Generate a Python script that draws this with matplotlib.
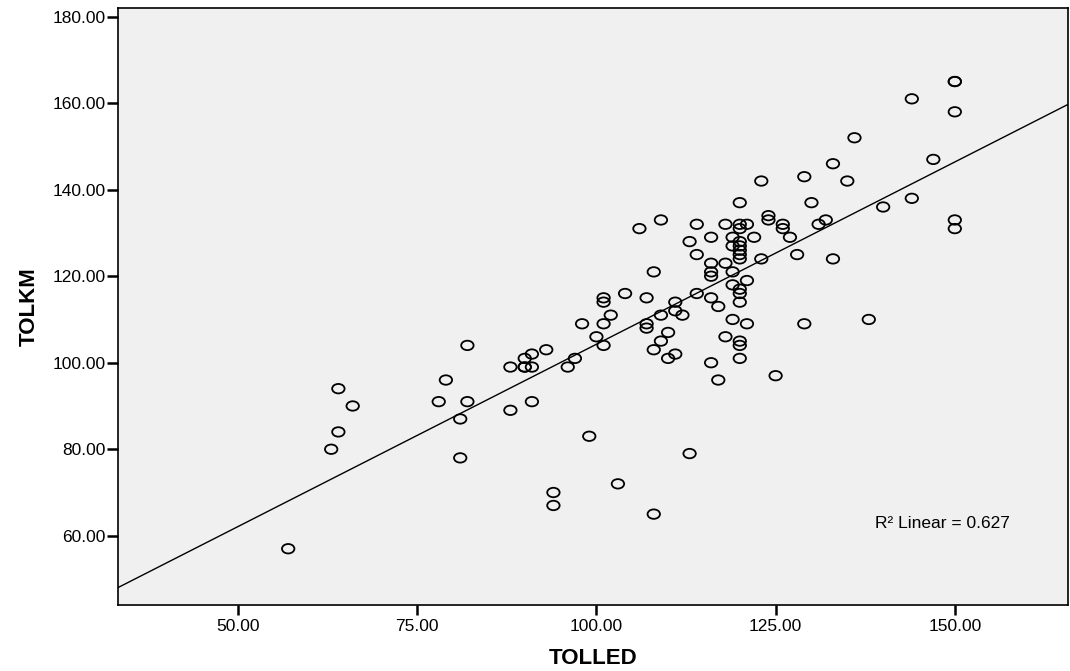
import numpy as np
import matplotlib
matplotlib.use('Agg')
import matplotlib.pyplot as plt
from matplotlib.path import Path
from matplotlib.transforms import Affine2D

# values
tolled = [57, 63, 64, 64, 66, 78, 79, 81, 81, 82, 82, 88, 88, 90, 90, 90, 91, 91, 91, 93,
          94, 94, 96, 97, 98, 99, 100, 101, 101, 101, 101, 102, 103, 104, 106, 107, 107, 107,
          108, 108, 108, 109, 109, 109, 110, 110, 111, 111, 111, 112, 113, 113, 114, 114, 114,
          116, 116, 116, 116, 116, 116, 117, 117, 118, 118, 118, 119, 119, 119, 119, 119,
          120, 120, 120, 120, 120, 120, 120, 120, 120, 120, 120, 120, 120, 120,
          121, 121, 121, 122, 123, 123, 124, 124, 125, 126, 126, 127, 128, 129, 129, 130,
          131, 132, 133, 133, 135, 136, 138, 140, 144, 144, 147, 150, 150, 150, 150, 150]
tolkm = [57, 80, 84, 94, 90, 91, 96, 78, 87, 91, 104, 89, 99, 99, 99, 101, 99, 102, 91, 103,
         70, 67, 99, 101, 109, 83, 106, 104, 109, 114, 115, 111, 72, 116, 131, 108, 109, 115,
         65, 103, 121, 105, 111, 133, 101, 107, 102, 112, 114, 111, 79, 128, 116, 125, 132,
         100, 115, 120, 121, 123, 129, 96, 113, 106, 123, 132, 110, 118, 121, 127, 129,
         101, 104, 105, 114, 116, 117, 124, 125, 126, 127, 128, 131, 132, 137,
         109, 119, 132, 129, 124, 142, 133, 134, 97, 131, 132, 129, 125, 109, 143, 137,
         132, 133, 124, 146, 142, 152, 110, 136, 138, 161, 147, 131, 133, 158, 165, 165]

x_ticks = [50, 75, 100, 125, 150]
y_ticks = [60, 80, 100, 120, 140, 160, 180]
r2_label = 'R² Linear = 0.627'

plt.rcParams['font.family'] = ['Liberation Sans', 'DejaVu Sans']

fig = plt.figure(figsize=(10.7, 6.71), dpi=100)
ax = fig.add_axes([0.1103, 0.0984, 0.8879, 0.8897])
ax.set_facecolor('#f0f0f0')

# flattened circle like the original export
ellipse = Path.unit_circle().transformed(Affine2D().scale(1.0, 0.76))
ax.scatter(tolled, tolkm, marker=ellipse, s=80, facecolors='none',
           edgecolors='black', linewidths=1.3, zorder=3)

xlim = (33.26, 165.8)
ylim = (44.0, 182.0)
ax.set_xlim(xlim)
ax.set_ylim(ylim)

# fit line across the full width
slope, intercept = np.polyfit(tolled, tolkm, 1)
xs = np.array(xlim)
ax.plot(xs, slope * xs + intercept, color='black', linewidth=1.0, zorder=2)

ax.text(0.797, 0.137, r2_label, transform=ax.transAxes, fontsize=12.5,
        ha='left', va='center')

ax.set_xticks(x_ticks)
ax.set_yticks(y_ticks)
ax.set_xticklabels([f'{v:.2f}' for v in x_ticks])
ax.set_yticklabels([f'{v:.2f}' for v in y_ticks])
ax.tick_params(axis='both', direction='out', length=8, width=1.8,
               labelsize=12.5, pad=1)
ax.tick_params(axis='x', length=7, pad=3)

for side in ['top', 'right', 'left', 'bottom']:
    ax.spines[side].set_linewidth(1.2)

ax.set_xlabel('TOLLED', fontsize=16, fontweight='bold', labelpad=10)
ax.set_ylabel('TOLKM', fontsize=16, fontweight='bold', labelpad=9)

fig.savefig('out.png', dpi=100)
